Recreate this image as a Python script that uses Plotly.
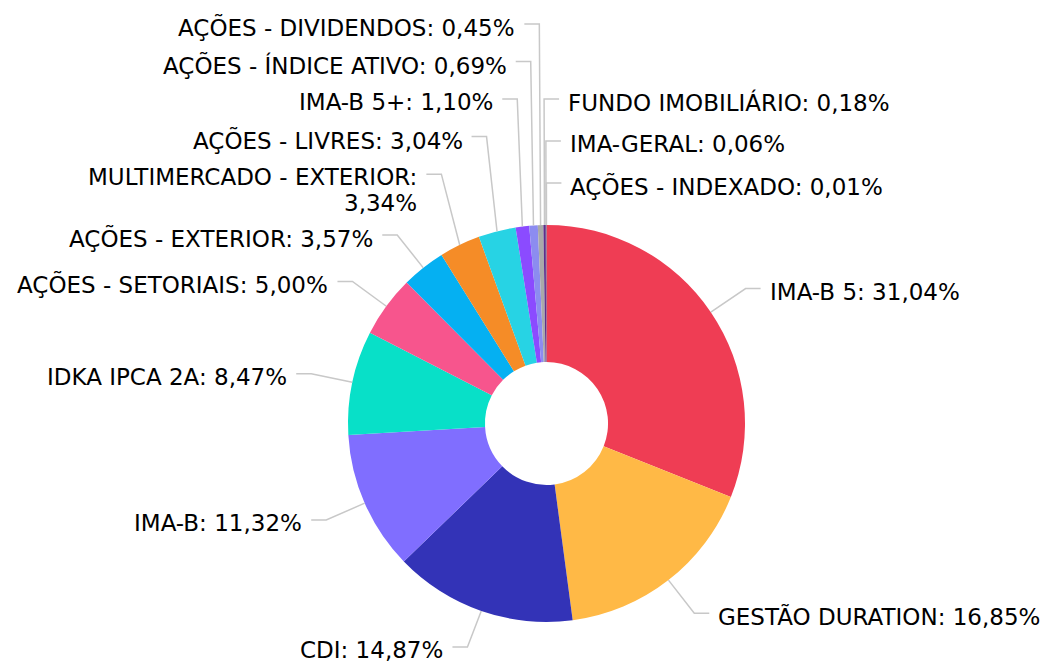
import math
import plotly.graph_objects as go

# ---------------- data ----------------
names = [
    "IMA-B 5", "GESTÃO DURATION", "CDI", "IMA-B", "IDKA IPCA 2A",
    "AÇÕES - SETORIAIS", "AÇÕES - EXTERIOR", "MULTIMERCADO - EXTERIOR",
    "AÇÕES - LIVRES", "IMA-B 5+", "AÇÕES - ÍNDICE ATIVO", "AÇÕES - DIVIDENDOS",
    "FUNDO IMOBILIÁRIO", "IMA-GERAL", "AÇÕES - INDEXADO",
]
values = [31.04, 16.85, 14.87, 11.32, 8.47, 5.00, 3.57, 3.34, 3.04, 1.10,
          0.69, 0.45, 0.18, 0.06, 0.01]
colors = [
    "#EF3D54", "#FFB946", "#3333B7", "#806EFF", "#08E0C8",
    "#F7558D", "#05B0F2", "#F58C27", "#27D3E4", "#8B4BFF",
    "#8C8CF0", "#A9A9A9", "#5D2E8C", "#2E2E6E", "#D0D0D0",
]
wrapped = {"MULTIMERCADO - EXTERIOR"}

# ---------------- layout constants ----------------
W, H = 1043, 664
CX, CY, R = 546.5, 423.5, 198.5
HOLE = 0.31
LEN1, LEN2, GAP = 42, 15, 7
FONT = 23
ROW = 42
LINE_H = 26
LINE_COLOR = "#C8C8C8"


def fmt(v):
    return ("%.2f" % v).replace(".", ",") + "%"


total = sum(values)
n = len(values)
sx, sy, ex, ey, side = [0] * n, [0] * n, [0] * n, [0] * n, [0] * n
nlines = [2 if nm in wrapped else 1 for nm in names]
cum = 0.0
for i, v in enumerate(values):
    mid = (cum + v / 2) / total * 2 * math.pi
    cum += v
    s, c = math.sin(mid), math.cos(mid)
    sx[i], sy[i] = CX + R * s, CY - R * c
    ex[i], ey[i] = CX + (R + LEN1) * s, CY - (R + LEN1) * c
    side[i] = 1 if (ex[i] - CX) > -4 else -1

ly = list(ey)
ymin = ROW / 2 + 3
ymax = H - 17
for sd in (1, -1):
    items = [i for i in range(n) if side[i] == sd]
    upper = sorted([i for i in items if ey[i] < CY],
                   key=lambda i: (-round(ey[i] * 2) / 2, -i))
    prev = None
    for i in upper:
        if prev is None:
            ly[i] = ey[i]
        else:
            gap = ROW / 2 + ROW / 2 + LINE_H * (nlines[i] - 1)
            ly[i] = min(ey[i], ly[prev] - gap)
        prev = i
    if upper and ly[upper[-1]] < ymin:
        k = len(upper) - 1
        while k > 0 and ly[upper[k]] < ey[upper[k]] - 0.5:
            k -= 1
        ay = ly[upper[k]]
        f = (ay - ymin) / (ay - ly[upper[-1]])
        for j in upper[k + 1:]:
            ly[j] = ay - (ay - ly[j]) * f
    lower = sorted([i for i in items if ey[i] >= CY], key=lambda i: (ey[i], i))
    prev = None
    for i in lower:
        if prev is None:
            ly[i] = ey[i]
        else:
            gap = ROW / 2 + LINE_H * (nlines[prev] - 1) + ROW / 2
            ly[i] = max(ey[i], ly[prev] + gap)
        ly[i] = min(ly[i], ymax)
        prev = i


def px(x):
    return x / W


def py(y):
    return 1 - y / H


fig = go.Figure(go.Pie(
    labels=names, values=values, sort=False, direction="clockwise",
    rotation=0, hole=HOLE, textinfo="none", hoverinfo="label+percent",
    marker=dict(colors=colors, line=dict(width=0)),
    domain=dict(x=[(CX - R) / W, (CX + R) / W],
                y=[(H - CY - R) / H, (H - CY + R) / H]),
))

shapes, annotations = [], []
for i in range(n):
    x1, x2 = ex[i], ex[i] + side[i] * LEN2
    path = "M %f,%f L %f,%f L %f,%f" % (px(sx[i]), py(sy[i]), px(x1), py(ly[i]),
                                       px(x2), py(ly[i]))
    shapes.append(dict(type="path", path=path, xref="paper", yref="paper",
                       line=dict(color=LINE_COLOR, width=1.5)))
    if names[i] in wrapped:
        lines = [names[i] + ":", fmt(values[i])]
    else:
        lines = [names[i] + ": " + fmt(values[i])]
    for k, t in enumerate(lines):
        annotations.append(dict(
            text=t, showarrow=False, xref="paper", yref="paper",
            x=px(x2 + side[i] * GAP), y=py(ly[i] + 3 + k * LINE_H),
            xanchor="left" if side[i] > 0 else "right", yanchor="middle",
            align="left" if side[i] > 0 else "right",
            font=dict(family="DejaVu Sans", size=FONT, color="#000000"),
        ))

fig.update_layout(
    width=W, height=H, margin=dict(l=0, r=0, t=0, b=0),
    paper_bgcolor="white", plot_bgcolor="white", showlegend=False,
    shapes=shapes, annotations=annotations,
)
fig.write_html(
    "out.html",
    config={"displayModeBar": False},
    post_script="document.body.style.margin='0px';document.body.style.overflow='hidden';",
)
